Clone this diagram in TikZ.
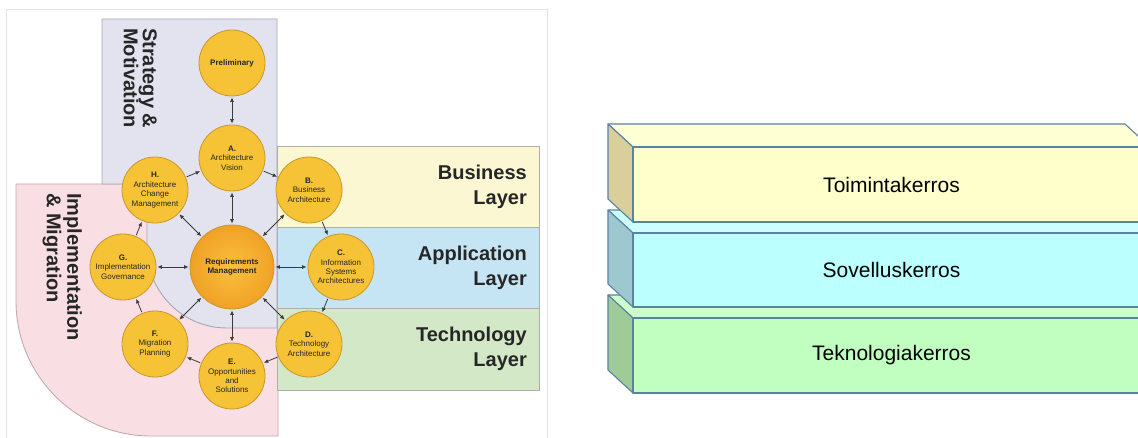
\documentclass[tikz,border=0pt]{standalone}
\usepackage{fontspec}
\setmainfont{Liberation Sans}
\usetikzlibrary{arrows.meta}

\definecolor{framegray}{HTML}{E3E3E3}
\definecolor{lavfill}{HTML}{E3E3F0}
\definecolor{lavedge}{HTML}{A6A6B4}
\definecolor{pinkfill}{HTML}{F9DFE4}
\definecolor{pinkedge}{HTML}{C3AAB0}
\definecolor{busfill}{HTML}{FAF7D2}
\definecolor{appfill}{HTML}{C6E5F4}
\definecolor{techfill}{HTML}{D3E8C7}
\definecolor{layeredge}{HTML}{AEB0A8}
\definecolor{phasefill}{HTML}{F6C236}
\definecolor{phaseedge}{HTML}{C8972C}
\definecolor{coreinner}{HTML}{FAC03E}
\definecolor{coreouter}{HTML}{F0A126}
\definecolor{darktext}{HTML}{262626}
\definecolor{arrowgray}{HTML}{3A3A3A}
\definecolor{slabedge}{HTML}{5B82A3}
\definecolor{yfront}{HTML}{FFFFCC}
\definecolor{ytop}{HTML}{FFFFD4}
\definecolor{yside}{HTML}{D8CF9B}
\definecolor{cfront}{HTML}{BCFFFF}
\definecolor{ctop}{HTML}{CCFFFF}
\definecolor{cside}{HTML}{9EC8CF}
\definecolor{gfront}{HTML}{C0FFC0}
\definecolor{gtop}{HTML}{CCFFCC}
\definecolor{gside}{HTML}{9ECB98}

\tikzset{
  phase/.style={circle, draw=phaseedge, fill=phasefill, line width=0.8pt,
    minimum size=66pt, inner sep=0pt, align=center, text=darktext,
    font=\fontsize{8}{9.4}\selectfont},
  core/.style={circle, draw=phaseedge, line width=0.8pt, minimum size=84pt,
    inner sep=0pt, align=center, inner color=coreinner, outer color=coreouter,
    text=darktext, font=\bfseries\fontsize{8}{9.4}\selectfont},
  flow/.style={draw=arrowgray, line width=0.8pt,
    -{Latex[length=4.5pt,width=4pt]}, shorten >=1pt, shorten <=1pt},
  twoway/.style={draw=arrowgray, line width=0.8pt,
    {Latex[length=4.5pt,width=4pt]}-{Latex[length=4.5pt,width=4pt]},
    shorten >=1pt, shorten <=1pt},
  layerlabel/.style={anchor=east, align=right, inner sep=0pt, text=darktext,
    font=\bfseries\fontsize{20}{25}\selectfont},
  sidelabel/.style={rotate=-90, anchor=north west, align=left, inner sep=0pt,
    text=darktext, font=\bfseries\fontsize{20}{19}\selectfont},
  region/.style={line width=0.9pt},
  slab/.style={draw=slabedge, line width=1.1pt, line join=round},
  slablabel/.style={inner sep=0pt, text=black, font=\fontsize{21}{25}\selectfont}
}

\begin{document}
\begin{tikzpicture}[x=1pt, y=-1pt]
\useasboundingbox (0,0) rectangle (1138,438);
\clip (0,0) rectangle (1138,438);
\fill[white] (0,0) rectangle (1138,438);

% frame of the left panel
\draw[framegray, line width=1pt] (6,446) -- (6,10) -- (547,10) -- (547,446);

% implementation & migration region
\filldraw[region, fill=pinkfill, draw=pinkedge]
  (16,184) -- (278,184) -- (278,436) [rounded corners=135pt] -- (16,436)
  [sharp corners] -- cycle;

% strategy & motivation region
\filldraw[region, fill=lavfill, draw=lavedge]
  (102,19) -- (277,19) -- (277,328) [rounded corners=80pt] -- (147,328)
  [sharp corners] -- (147,184) -- (102,184) -- cycle;

% architecture layers
\filldraw[region, fill=busfill, draw=layeredge] (277,146) rectangle (539,227);
\filldraw[region, fill=appfill, draw=layeredge] (277,227) rectangle (539,308);
\filldraw[region, fill=techfill, draw=layeredge] (277,308) rectangle (539,390);

\node[layerlabel] (bus) at (527,186.5) {Business\\Layer};
\node[layerlabel] (app) at (527,267.5) {Application\\Layer};
\node[layerlabel] (tech) at (527,348.5) {Technology\\Layer};

\node[sidelabel] (strat) at (157,28) {Strategy \&\\Motivation};
\node[sidelabel, font=\bfseries\fontsize{20}{20.5}\selectfont] (impl) at (82,193) {Implementation\\\& Migration};

% ADM cycle
\node[core] (rm) at (232,267) {Requirements\\Management};
\node[phase] (prelim) at (232,63) {\textbf{Preliminary}};
\node[phase] (A) at (232,158) {\textbf{A.}\\Architecture\\Vision};
\node[phase] (B) at (309,190) {\textbf{B.}\\Business\\Architecture};
\node[phase] (C) at (341,267) {\textbf{C.}\\Information\\Systems\\Architectures};
\node[phase] (D) at (309,344) {\textbf{D.}\\Technology\\Architecture};
\node[phase] (E) at (232,376) {\textbf{E.}\\Opportunities\\and\\Solutions};
\node[phase] (F) at (155,344) {\textbf{F.}\\Migration\\Planning};
\node[phase] (G) at (123,267) {\textbf{G.}\\Implementation\\Governance};
\node[phase] (H) at (155,190) {\textbf{H.}\\Architecture\\Change\\Management};

\draw[twoway] (prelim) -- (A);
\foreach \p in {A,B,C,D,E,F,G,H} { \draw[twoway] (rm) -- (\p); }
\draw[flow] (A) -- (B);
\draw[flow] (B) -- (C);
\draw[flow] (C) -- (D);
\draw[flow] (D) -- (E);
\draw[flow] (E) -- (F);
\draw[flow] (F) -- (G);
\draw[flow] (G) -- (H);
\draw[flow] (H) -- (A);

% stacked layer slabs, drawn bottom to top
% technology slab
\filldraw[slab, fill=gtop]  (633,318) -- (608,295) -- (1125,295) -- (1150,318) -- cycle;
\filldraw[slab, fill=gside] (633,318) -- (608,295) -- (608,370) -- (633,393) -- cycle;
\filldraw[slab, fill=gfront] (633,318) rectangle (1150,393);
\node[slablabel] (teknologia) at (891.5,355.5) {Teknologiakerros};

% application slab
\filldraw[slab, fill=ctop]  (633,233) -- (608,210) -- (1125,210) -- (1150,233) -- cycle;
\filldraw[slab, fill=cside] (633,233) -- (608,210) -- (608,284) -- (633,307) -- cycle;
\filldraw[slab, fill=cfront] (633,233) rectangle (1150,307);
\node[slablabel] (sovellus) at (891.5,270) {Sovelluskerros};

% business slab
\filldraw[slab, fill=ytop]  (633,147) -- (608,124) -- (1125,124) -- (1150,147) -- cycle;
\filldraw[slab, fill=yside] (633,147) -- (608,124) -- (608,199) -- (633,222) -- cycle;
\filldraw[slab, fill=yfront] (633,147) rectangle (1150,222);
\node[slablabel] (toiminta) at (891.5,184.5) {Toimintakerros};
\end{tikzpicture}
\end{document}
